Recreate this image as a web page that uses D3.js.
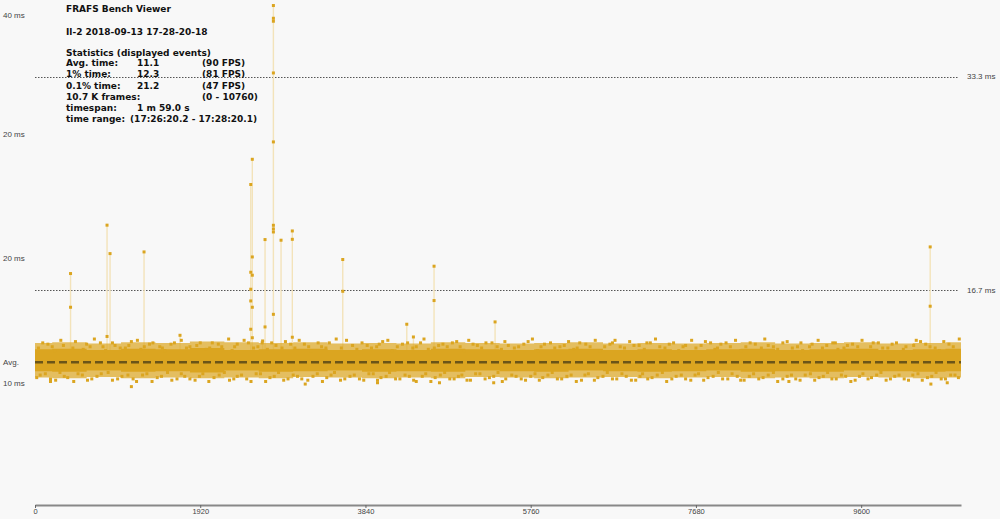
<!DOCTYPE html>
<html>
<head>
<meta charset="utf-8">
<script src="https://cdn.jsdelivr.net/npm/d3@7/dist/d3.min.js"></script>
<style>
  html, body { margin: 0; padding: 0; background: #f8f8f8; }
  svg { display: block; }
</style>
</head>
<body>
<svg id="chart" width="1000" height="519"></svg>
<script>
// ---------------- DATA ----------------
const totalFrames = 10760;
const avgMs = 11.1;
const refLines = [33.3, 16.7];
const refLabels = ["33.3 ms", "16.7 ms"];

const xTickValues = [0, 1920, 3840, 5760, 7680, 9600];
const yTickValues = [38.1, 28.8, 19.2, 9.5];
const yTickLabels = ["40 ms", "20 ms", "20 ms", "10 ms"];

const titleLines = ["FRAFS Bench Viewer", "Il-2 2018-09-13 17-28-20-18", "Statistics (displayed events)"];
const statLabels = ["Avg. time:", "1% time:", "0.1% time:", "10.7 K frames:", "timespan:", "time range:"];
const statValues = ["11.1", "12.3", "21.2", "", "1 m 59.0 s", "(17:26:20.2 - 17:28:20.1)"];
const statExtras = ["(90 FPS)", "(81 FPS)", "(47 FPS)", "(0 - 10760)", "", ""];

// dense band of frame times (core envelope per 400-frame bin)
const bandFrames = [0,400,800,1200,1600,2000,2400,2800,3200,3600,4000,4400,4800,5200,5600,6000,6400,6800,7200,7600,8000,8400,8800,9200,9600,10000,10400,10760];
const bandLow  = [10.4,10.35,10.45,10.35,10.4,10.3,10.45,10.35,10.4,10.45,10.35,10.4,10.35,10.45,10.4,10.35,10.45,10.4,10.35,10.4,10.45,10.35,10.4,10.35,10.45,10.4,10.35,10.4];
const bandHigh = [12.1,12.15,12.05,12.15,12.1,12.2,12.05,12.1,12.15,12.05,12.1,12.05,12.15,12.1,12.05,12.1,12.15,12.05,12.1,12.05,12.1,12.15,12.05,12.1,12.15,12.05,12.1,12.15];
const fringeLow  = [9.9,9.85,9.95,9.85,9.9,9.85,9.9,9.85,9.95,9.9,9.85,9.9,9.85,9.95,9.9,9.85,9.9,9.95,9.85,9.9,9.95,9.85,9.9,9.85,9.95,9.9,9.85,9.9];
const fringeHigh = [12.6,12.65,12.55,12.65,12.6,12.7,12.65,12.6,12.65,12.55,12.6,12.55,12.65,12.6,12.55,12.6,12.65,12.55,12.6,12.55,12.6,12.65,12.55,12.6,12.65,12.55,12.6,12.65];

// scattered frames at the band edges [frame, ms]
const upperSpeckles = [[40,12.2],[150,12.5],[230,12.0],[330,12.4],[470,12.7],[560,12.1],[640,12.3],[760,12.6],[820,12.0],[930,12.4],[1050,12.2],[1120,12.7],[1230,12.1],[1330,12.5],[1450,12.3],[1510,12.0],[1620,12.6],[1760,12.2],[1880,12.4],[1990,12.1],[2060,12.6],[2170,12.3],[2290,12.0],[2350,12.5],[2430,12.8],[2540,12.2],[2640,12.6],[2700,12.1],[2800,12.4],[2910,12.7],[3020,12.2],[3130,12.5],[3210,12.0],[3330,12.3],[3420,12.6],[3560,12.2],[3620,12.8],[3740,12.1],[3860,12.4],[3970,12.3],[4040,12.7],[4150,12.0],[4270,12.5],[4390,12.2],[4480,12.6],[4570,12.1],[4690,12.4],[4790,12.3],[4900,12.7],[4980,12.0],[5090,12.5],[5190,12.2],[5310,12.6],[5420,12.1],[5500,12.4],[5620,12.3],[5730,12.7],[5840,12.0],[5920,12.5],[6040,12.2],[6150,12.4],[6260,12.1],[6330,12.6],[6450,12.3],[6560,12.0],[6680,12.5],[6740,12.8],[6850,12.2],[6960,12.4],[7080,12.1],[7150,12.6],[7260,12.3],[7370,12.5],[7480,12.0],[7560,12.4],[7680,12.2],[7790,12.7],[7900,12.1],[7970,12.5],[8080,12.3],[8200,12.0],[8310,12.6],[8440,12.2],[8520,12.4],[8630,12.1],[8740,12.7],[8860,12.3],[8920,12.0],[9030,12.5],[9150,12.2],[9270,12.6],[9330,12.1],[9440,12.4],[9560,12.3],[9680,12.0],[9740,12.6],[9850,12.2],[9960,12.5],[10090,12.1],[10210,12.4],[10290,12.7],[10400,12.3],[10510,12.0],[10620,12.5],[10740,12.9]];
const upperSpeckles2 = [[90,12.6],[200,12.3],[300,12.8],[440,12.2],[600,12.5],[690,12.9],[790,12.3],[900,12.6],[990,12.2],[1090,12.4],[1190,12.8],[1270,12.3],[1370,12.6],[1480,12.2],[1580,12.5],[1700,12.8],[1800,12.3],[1920,12.6],[2030,12.2],[2130,12.5],[2250,12.9],[2320,12.3],[2480,12.6],[2590,12.3],[2750,12.6],[2870,12.2],[2970,12.5],[3070,12.8],[3180,12.3],[3290,12.6],[3380,12.2],[3500,12.9],[3690,12.4],[3800,12.6],[3910,12.2],[4000,12.5],[4100,12.8],[4210,12.3],[4330,12.6],[4430,12.3],[4520,12.9],[4640,12.2],[4740,12.5],[4850,12.6],[4940,12.3],[5040,12.8],[5140,12.4],[5240,12.6],[5370,12.3],[5460,12.7],[5570,12.2],[5680,12.5],[5780,12.9],[5880,12.3],[5990,12.6],[6100,12.3],[6200,12.7],[6300,12.2],[6400,12.5],[6510,12.8],[6620,12.3],[6710,12.6],[6800,12.3],[6910,12.7],[7020,12.4],[7110,12.6],[7210,12.9],[7320,12.2],[7420,12.6],[7530,12.3],[7630,12.8],[7740,12.4],[7850,12.6],[7930,12.2],[8030,12.6],[8140,12.8],[8260,12.3],[8370,12.5],[8480,12.9],[8580,12.3],[8690,12.6],[8800,12.2],[8900,12.6],[9000,12.3],[9100,12.8],[9200,12.4],[9300,12.6],[9400,12.2],[9500,12.5],[9610,12.8],[9710,12.3],[9800,12.6],[9910,12.2],[10010,12.6],[10120,12.3],[10240,12.8],[10350,12.5],[10460,12.2],[10560,12.7],[10670,12.3]];
const lowerSpeckles = [[60,10.1],[180,9.8],[290,10.3],[380,9.9],[500,10.2],[610,9.7],[720,10.0],[850,10.3],[960,9.8],[1080,10.1],[1180,9.6],[1300,10.2],[1420,9.9],[1540,10.3],[1650,9.8],[1740,10.0],[1860,9.7],[1950,10.2],[2080,9.9],[2200,10.3],[2310,9.8],[2400,10.1],[2510,9.6],[2620,10.2],[2730,9.9],[2830,10.3],[2940,9.8],[3050,10.0],[3170,9.7],[3280,10.2],[3390,9.9],[3480,10.3],[3600,9.8],[3710,10.1],[3820,9.7],[3930,10.2],[4020,9.9],[4120,10.3],[4240,9.8],[4350,10.0],[4430,9.6],[4540,10.2],[4650,9.9],[4760,10.3],[4870,9.8],[4960,10.1],[5060,9.7],[5170,10.2],[5280,9.9],[5380,10.3],[5470,9.8],[5590,10.0],[5700,9.7],[5810,10.2],[5900,9.9],[6010,10.3],[6120,9.8],[6230,10.1],[6350,9.7],[6430,10.2],[6540,9.9],[6650,10.3],[6760,9.8],[6870,10.0],[6980,9.7],[7060,10.2],[7170,9.9],[7290,10.3],[7400,9.8],[7510,10.1],[7620,9.7],[7710,10.2],[7820,9.9],[7940,10.3],[8050,9.8],[8160,10.0],[8240,9.7],[8350,10.2],[8460,9.9],[8580,10.3],[8690,9.8],[8790,10.1],[8890,9.7],[9010,10.2],[9110,9.9],[9210,10.3],[9310,9.8],[9420,10.0],[9530,9.7],[9620,10.2],[9720,9.9],[9830,10.3],[9940,9.8],[10040,10.1],[10150,9.7],[10260,10.2],[10370,9.9],[10470,10.3],[10580,9.8],[10690,10.1],[180,9.6],[1120,9.2],[3140,9.4],[3980,9.5],[4700,9.5],[5330,9.5],[8760,9.6],[10410,9.4],[10600,9.5]];
const lowerSpeckles2 = [[20,9.9],[120,10.2],[240,9.7],[340,10.0],[450,9.6],[550,10.1],[660,9.8],[770,10.2],[900,9.7],[1010,10.0],[1140,9.8],[1250,10.1],[1360,9.6],[1470,10.0],[1590,9.7],[1700,10.2],[1800,9.8],[1910,10.0],[2020,9.6],[2140,10.1],[2260,9.7],[2350,10.0],[2460,9.8],[2570,10.2],[2680,9.6],[2780,10.0],[2890,9.7],[3000,10.1],[3100,9.8],[3230,10.0],[3340,9.6],[3440,10.1],[3550,9.7],[3660,10.0],[3770,9.8],[3880,10.2],[3980,9.7],[4080,10.0],[4190,9.8],[4300,10.1],[4400,9.7],[4500,10.0],[4600,9.6],[4710,10.1],[4820,9.8],[4920,10.0],[5020,9.7],[5120,10.2],[5230,9.8],[5330,10.0],[5430,9.6],[5540,10.1],[5650,9.8],[5760,10.0],[5860,9.7],[5960,10.1],[6070,9.8],[6180,10.0],[6290,9.6],[6390,10.1],[6500,9.7],[6600,10.0],[6710,9.8],[6820,10.2],[6930,9.7],[7030,10.0],[7120,9.8],[7230,10.1],[7340,9.6],[7450,10.0],[7560,9.8],[7670,10.1],[7770,9.7],[7880,10.0],[7990,9.8],[8100,10.2],[8200,9.7],[8300,10.0],[8410,9.8],[8520,10.1],[8630,9.6],[8740,10.0],[8840,9.8],[8950,10.1],[9060,9.7],[9160,10.0],[9260,9.8],[9370,10.1],[9480,9.6],[9580,10.0],[9680,9.8],[9780,10.1],[9890,9.7],[9990,10.0],[10100,9.8],[10200,10.1],[10310,9.7],[10420,10.0],[10530,9.8],[10640,10.1],[10730,9.9]];

// frame-time spikes: frame index and the slow frames recorded around it (ms)
const spikeFrames = [413, 837, 872, 1267, 1685, 2507, 2525, 2645, 2673, 2770, 2859, 2990, 3576, 4320, 4397, 4637, 5346, 10402];
const spikeValues = [
  [17.99, 15.37],
  [21.75, 13.1],
  [19.54],
  [19.67],
  [13.19],
  [24.91, 18.09, 16.77, 15.86, 13.66],
  [26.87, 19.28, 17.86, 15.37, 13.0],
  [12.75],
  [20.63, 13.84],
  [38.82, 37.83, 37.6, 33.58, 28.22, 21.74, 21.46, 21.22, 14.82],
  [20.58],
  [21.3, 20.65, 13.04],
  [19.08, 16.61],
  [14.05],
  [13.06],
  [18.56, 15.89],
  [14.23],
  [20.06, 15.45]
];

// ---------------- DRAW ----------------
const W = 1000, H = 519;
const plot = { left: 35, right: 961, top: 0, bottom: 505 };
const gold = "#dba520";
const paleGold = "#f3e3ba";

const svg = d3.select("#chart");
svg.append("rect").attr("width", W).attr("height", H).attr("fill", "#f8f8f8");

const x = d3.scaleLinear().domain([0, totalFrames]).range([plot.left, plot.right]);
const y = d3.scaleLinear().domain([0, 39.25]).range([plot.bottom, plot.top]);

// reference lines (33.3 / 16.7 ms)
refLines.forEach((v, i) => {
  svg.append("line")
    .attr("x1", plot.left).attr("x2", 958)
    .attr("y1", Math.round(y(v)) + 0.5).attr("y2", Math.round(y(v)) + 0.5)
    .attr("stroke", "#555").attr("stroke-width", 1).attr("stroke-dasharray", "1.5,1.5");
  svg.append("text")
    .attr("x", 967).attr("y", y(v)).attr("dy", "0.35em")
    .attr("font-family", "Liberation Sans, Arial, sans-serif").attr("font-size", 8)
    .attr("fill", "#444").text(refLabels[i]);
});

// spike connectors
spikeFrames.forEach((f, i) => {
  const top = d3.max(spikeValues[i]);
  svg.append("line")
    .attr("x1", x(f)).attr("x2", x(f))
    .attr("y1", y(avgMs)).attr("y2", y(top))
    .attr("stroke", paleGold).attr("stroke-width", 1.4);
});

// fringe and core band
const bandData = bandFrames.map((f, i) => ({ f, lo: bandLow[i], hi: bandHigh[i], flo: fringeLow[i], fhi: fringeHigh[i] }));
svg.append("path").datum(bandData)
  .attr("d", d3.area().x(d => x(d.f)).y0(d => y(d.flo)).y1(d => y(d.fhi)).curve(d3.curveStep))
  .attr("fill", gold).attr("fill-opacity", 0.7);
svg.append("path").datum(bandData)
  .attr("d", d3.area().x(d => x(d.f)).y0(d => y(d.lo)).y1(d => y(d.hi)).curve(d3.curveStep))
  .attr("fill", gold);

// speckles
const speck = upperSpeckles.concat(upperSpeckles2, lowerSpeckles, lowerSpeckles2);
svg.append("g").selectAll("rect").data(speck).join("rect")
  .attr("x", d => x(d[0]) - 1.5).attr("y", d => y(d[1]) - 1.5)
  .attr("width", 3).attr("height", 3).attr("fill", gold);

// spike points
const spikePts = [];
spikeFrames.forEach((f, i) => spikeValues[i].forEach(v => spikePts.push([f, v])));
svg.append("g").selectAll("rect").data(spikePts).join("rect")
  .attr("x", d => x(d[0]) - 1.5).attr("y", d => y(d[1]) - 1.5)
  .attr("width", 3).attr("height", 3).attr("fill", gold);

// average line
svg.append("line")
  .attr("x1", plot.left).attr("x2", plot.right)
  .attr("y1", y(avgMs)).attr("y2", y(avgMs))
  .attr("stroke", "#6b5518").attr("stroke-width", 2.5).attr("stroke-dasharray", "8,4");

// y labels
const labFont = "Liberation Sans, Arial, sans-serif";
yTickValues.forEach((v, i) => {
  svg.append("text").attr("x", 3).attr("y", y(v)).attr("dy", "0.35em")
    .attr("font-family", labFont).attr("font-size", 8).attr("fill", "#444").text(yTickLabels[i]);
});
svg.append("text").attr("x", 3).attr("y", y(avgMs)).attr("dy", "0.35em")
  .attr("font-family", labFont).attr("font-size", 8).attr("fill", "#444").text("Avg.");

// x axis
const xAxis = d3.axisBottom(x).tickValues(xTickValues).tickFormat(d3.format("d"))
  .tickSize(3).tickSizeOuter(0).tickPadding(1);
const gx = svg.append("g").attr("transform", `translate(0,${plot.bottom})`).call(xAxis);
gx.select(".domain").attr("stroke", "#888").attr("stroke-width", 2);
gx.selectAll(".tick line").attr("stroke", "#666");
gx.selectAll(".tick text").attr("font-family", labFont).attr("font-size", 7.5).attr("fill", "#444");

// title / stats block
const tFont = "DejaVu Sans, Verdana, sans-serif";
const tg = svg.append("g").attr("font-family", tFont).attr("font-size", 9).attr("font-weight", "bold").attr("fill", "#111");
const titleY = [8.5, 31.5, 53];
titleLines.forEach((t, i) => tg.append("text").attr("x", 66).attr("y", titleY[i]).attr("dy", "0.35em").text(t));
statLabels.forEach((t, i) => {
  const yy = 63 + i * 11.2;
  tg.append("text").attr("x", 66).attr("y", yy).attr("dy", "0.35em").text(t);
  if (statValues[i]) tg.append("text").attr("x", i === 5 ? 130 : 137).attr("y", yy).attr("dy", "0.35em").text(statValues[i]);
  if (statExtras[i]) tg.append("text").attr("x", 202).attr("y", yy).attr("dy", "0.35em").text(statExtras[i]);
});
</script>
</body>
</html>
